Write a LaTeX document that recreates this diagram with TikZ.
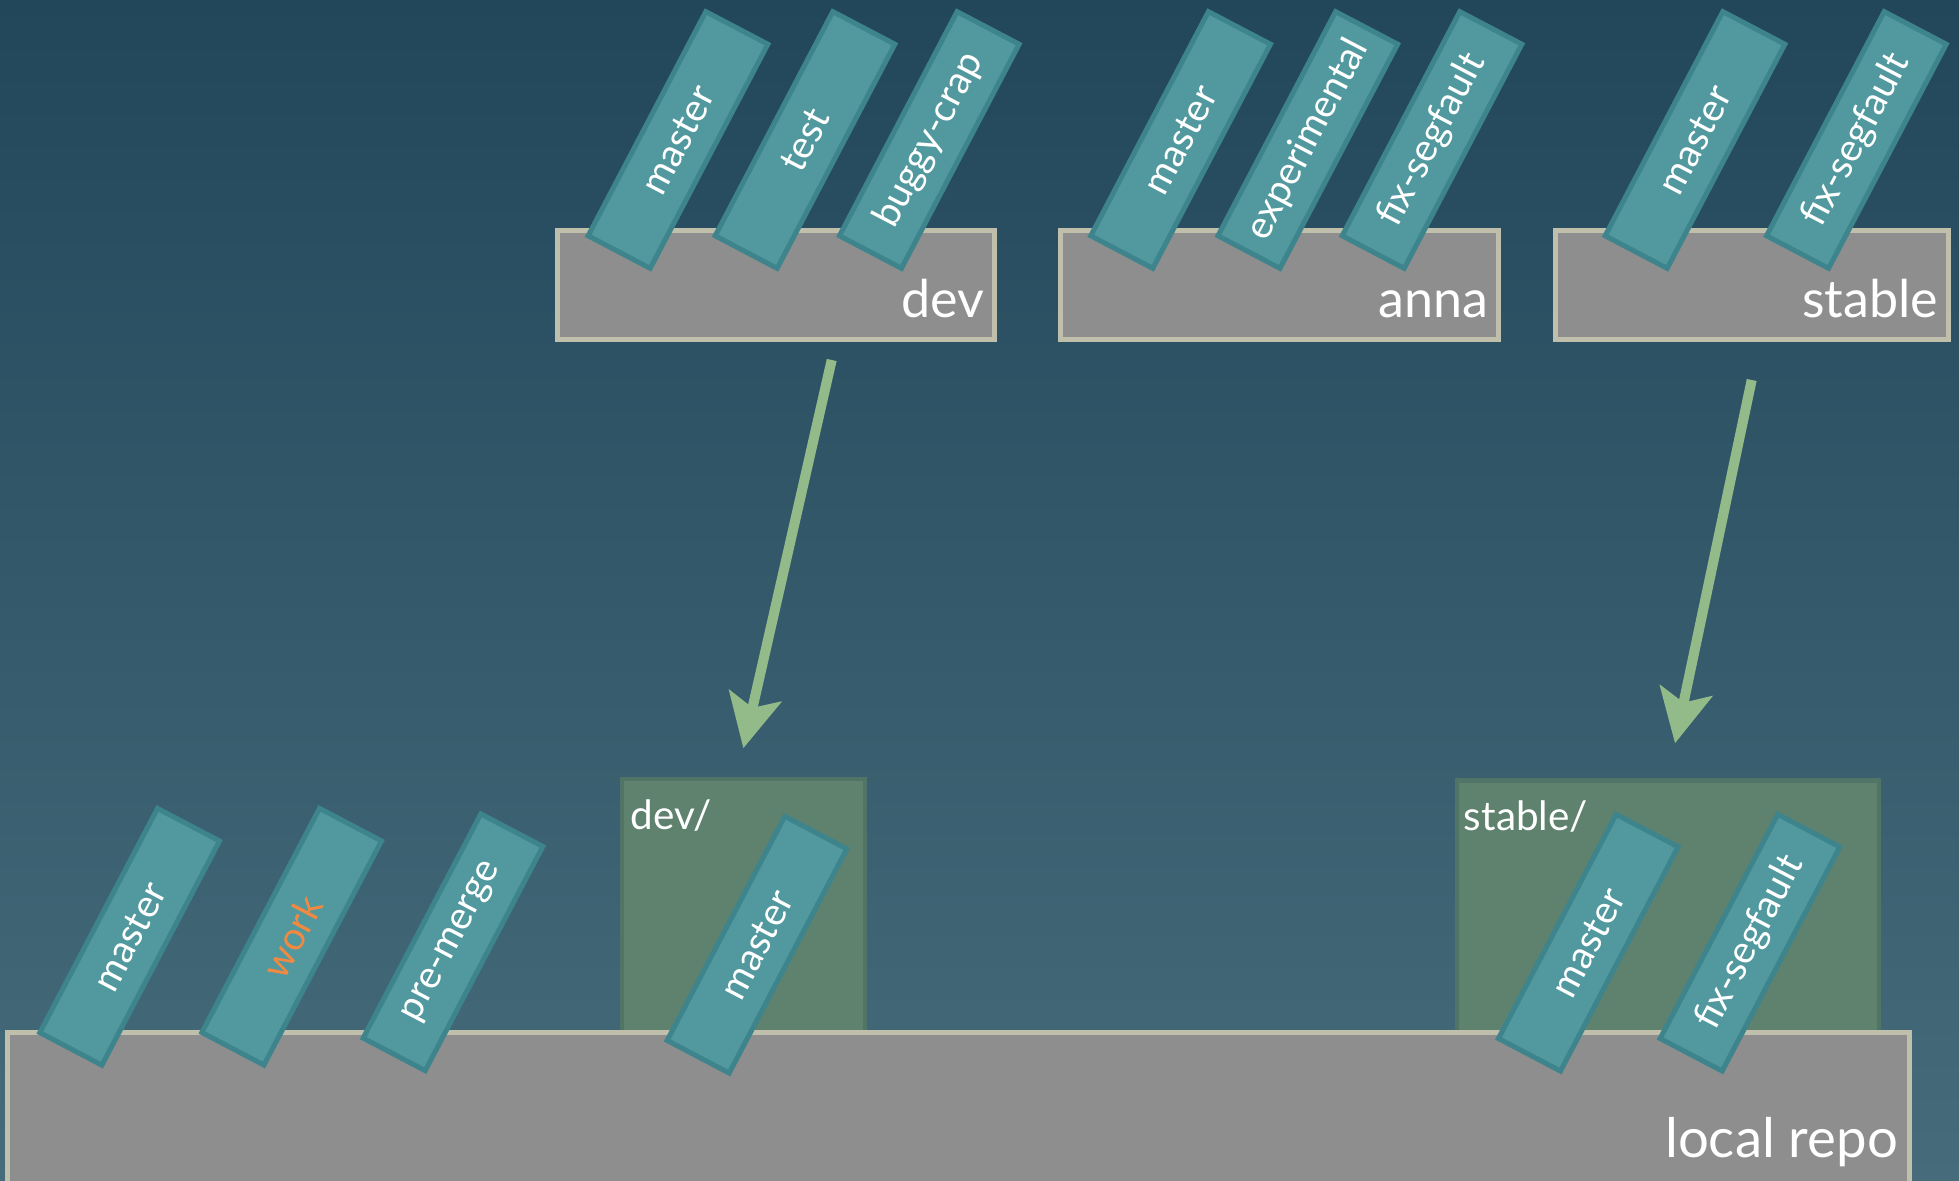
\documentclass[tikz,border=0pt]{standalone}
\usepackage{fontspec}
\setmainfont{Lato}
\usetikzlibrary{positioning, arrows.meta, calc}
\definecolor{bgtop}{RGB}{34, 71, 91}
\definecolor{bgbottom}{RGB}{70, 107, 122}
\definecolor{repofill}{RGB}{142, 142, 142}
\definecolor{repoedge}{RGB}{192, 191, 172}
\definecolor{tagfill}{RGB}{81, 153, 158}
\definecolor{tagedge}{RGB}{62, 132, 141}
\definecolor{dirfill}{RGB}{95, 130, 111}
\definecolor{diredge}{RGB}{80, 117, 103}
\definecolor{fetchgreen}{RGB}{147, 187, 138}
\definecolor{workorange}{RGB}{240, 138, 66}

\begin{document}
\begin{tikzpicture}[
        x=0.01cm, y=0.01cm,
        repo/.style={draw=repoedge, fill=repofill, line width=1.42pt, inner sep=0pt},
        dir/.style={draw=diredge, fill=dirfill, line width=1.2pt, inner sep=0pt},
        tag/.style={draw=tagedge, fill=tagfill, line width=1.42pt, inner sep=0pt, minimum width=2.53cm, minimum height=0.70cm, text=white, font=\fontsize{11}{13}\selectfont, rotate=62.3},
        repolabel/.style={text=white, inner sep=0pt, anchor=base east, font=\fontsize{14.8}{18}\selectfont},
        dirlabel/.style={text=white, inner sep=0pt, anchor=base west, font=\fontsize{11.5}{14}\selectfont},
        fetch/.style={-{Stealth[length=0.535cm, width=0.53cm, inset=0.12cm]}, line width=2.85pt, fetchgreen}
    ]
        \fill[top color=bgtop, bottom color=bgbottom] (0,0) rectangle (1959,1181);
        \useasboundingbox (0,0) rectangle (1959,1181);

        % remotes
        \node[repo, minimum width=4.375cm, minimum height=1.084cm] (dev) at (776,896) {};
        \node[repo, minimum width=4.374cm, minimum height=1.084cm] (anna) at (1279.5,896) {};
        \node[repo, minimum width=3.924cm, minimum height=1.084cm] (stable) at (1752,896) {};

        \node[tag] (devmaster) at (678,1041) {master};
        \node[tag] (devtest) at (805,1041) {test};
        \node[tag] (devbuggy) at (929.3,1041) {buggy-crap};
        \node[tag] (annamaster) at (1180.6,1041) {master};
        \node[tag] (annaexp) at (1307.8,1041) {experimental};
        \node[tag] (annafix) at (1432,1041) {fix-segfault};
        \node[tag] (stablemaster) at (1695,1041) {master};
        \node[tag] (stablefix) at (1856.4,1041) {fix-segfault};

        \node[repolabel] (devname) at ([shift={(-12,24)}]dev.south east) {dev};
        \node[repolabel] (annaname) at ([shift={(-12,24)}]anna.south east) {anna};
        \node[repolabel] (stablename) at ([shift={(-12,24)}]stable.south east) {stable};

        % local side
        \node[dir, minimum width=2.427cm, minimum height=2.62cm] (devdir) at (743.35,271) {};
        \node[dir, minimum width=4.217cm, minimum height=2.605cm] (stabledir) at (1668.35,270.25) {};
        \node[dirlabel] (devdirname) at ([shift={(10,-53)}]devdir.north west) {dev/};
        \node[dirlabel] (stabledirname) at ([shift={(8,-52)}]stabledir.north west) {stable/};

        \node[repo, minimum width=19cm, minimum height=1.785cm] (local) at (958.5,59.25) {};
        \node[repolabel, font=\fontsize{15.5}{18}\selectfont] (localname) at ([shift={(-13,-127.5)}]local.north east) {local repo};

        \node[tag] (master) at (129.7,244.2) {master};
        \node[tag, text=workorange] (work) at (291.7,244.3) {work};
        \node[tag] (premerge) at (453,238.7) {pre-merge};
        \node[tag] (devdirmaster) at (757,236.3) {master};
        \node[tag] (stabledirmaster) at (1588.3,238.3) {master};
        \node[tag] (stabledirfix) at (1750,238.3) {fix-segfault};

        % fetches
        \coordinate (devout) at (831.7,821);
        \coordinate (devin) at (743.3,432.7);
        \coordinate (stableout) at (1751.7,801);
        \coordinate (stablein) at (1675,437.7);
        \draw[fetch] (devout) -- (devin);
        \draw[fetch] (stableout) -- (stablein);
    \end{tikzpicture}
\end{document}
